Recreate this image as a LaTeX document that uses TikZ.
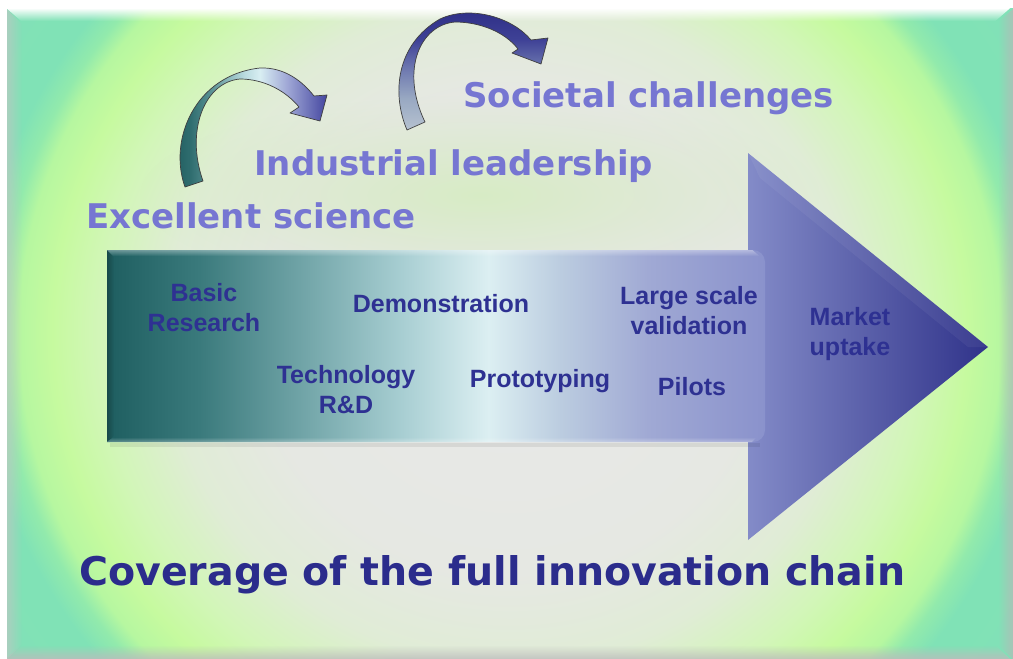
\documentclass[tikz,border=0pt]{standalone}
\usepackage{fontspec}
\newfontfamily\vfont{DejaVu Sans}
\newfontfamily\afont{Liberation Sans}
\usetikzlibrary{fadings}
% background colours
\definecolor{bgA}{HTML}{E8E8E8}
\definecolor{bgB}{HTML}{E6E8E3}
\definecolor{bgC}{HTML}{E0ECD6}
\definecolor{bgD}{HTML}{D2F6B8}
\definecolor{bgE}{HTML}{C6FA9F}
\definecolor{bgF}{HTML}{B6F7A0}
\definecolor{bgG}{HTML}{92EAAC}
\definecolor{bgH}{HTML}{80E2B6}
\definecolor{bgI}{HTML}{88DCBC}
\definecolor{blobgreen}{HTML}{CDEEB0}
\definecolor{bevL}{HTML}{C4C4C4}
\definecolor{bevR}{HTML}{B8B8B8}
\definecolor{bevB}{HTML}{BCBCBC}
% arrow body colours
\definecolor{bA}{HTML}{1E5E60}
\definecolor{bB}{HTML}{3A7A7C}
\definecolor{bC}{HTML}{6FA3A6}
\definecolor{bD}{HTML}{A6CDD1}
\definecolor{bE}{HTML}{DCEFF2}
\definecolor{bF}{HTML}{BCCDE0}
\definecolor{bG}{HTML}{A0A9D4}
\definecolor{bH}{HTML}{8A92CC}
\definecolor{headL}{HTML}{838BC8}
\definecolor{headR}{HTML}{30338A}
% curved arrow colours
\definecolor{cA}{HTML}{1C585A}
\definecolor{cB}{HTML}{2E6C6E}
\definecolor{cC}{HTML}{5A9294}
\definecolor{cD}{HTML}{B8DADE}
\definecolor{cE}{HTML}{D8EEF2}
\definecolor{cF}{HTML}{A0A8D6}
\definecolor{cG}{HTML}{4446A0}
\definecolor{dA}{HTML}{B6C2D0}
\definecolor{dB}{HTML}{98A8C2}
\definecolor{dC}{HTML}{6A74AE}
\definecolor{dD}{HTML}{3E4196}
\definecolor{dE}{HTML}{2C2C84}
% text colours
\definecolor{headc}{HTML}{7676D2}
\definecolor{titlec}{HTML}{2B2C8C}
\definecolor{labc}{HTML}{2E3192}

\pgfdeclareradialshading{bgshade}{\pgfpoint{0bp}{0bp}}{color(0bp)=(bgA); color(12bp)=(bgB); color(16.5bp)=(bgC); color(19.8bp)=(bgD); color(22bp)=(bgE); color(23.6bp)=(bgF); color(24.5bp)=(bgG); color(25.6bp)=(bgH); color(50bp)=(bgI)}
\pgfdeclarehorizontalshading{bodyshade}{100bp}{color(0bp)=(bA); color(25bp)=(bA); color(32bp)=(bB); color(39.6bp)=(bC); color(47.2bp)=(bD); color(54bp)=(bE); color(59.3bp)=(bF); color(66.1bp)=(bG); color(75bp)=(bH); color(100bp)=(bH)}
\pgfdeclarehorizontalshading{curveAshade}{100bp}{color(0bp)=(cA); color(25bp)=(cA); color(31.8bp)=(cB); color(38.6bp)=(cC); color(48.8bp)=(cD); color(53.9bp)=(cE); color(62.4bp)=(cF); color(75bp)=(cG); color(100bp)=(cG)}
\pgfdeclareverticalshading{curveBshade}{100bp}{color(0bp)=(dA); color(25bp)=(dA); color(37.8bp)=(dB); color(50.6bp)=(dC); color(61.3bp)=(dD); color(75bp)=(dE); color(100bp)=(dE)}

\tikzfading[name=fadeR, left color=transparent!0, right color=transparent!100]
\tikzfading[name=fadeL, left color=transparent!100, right color=transparent!0]
\tikzfading[name=fadeD, top color=transparent!0, bottom color=transparent!100]
\tikzfading[name=fadeU, top color=transparent!100, bottom color=transparent!0]
\tikzfading[name=blobfade, inner color=transparent!0, outer color=transparent!100]

\newcommand\twoline[2]{\begin{tabular}[t]{@{}c@{}}#1\\#2\end{tabular}}

\tikzset{
  heading/.style={font=\vfont\bfseries\fontsize{34}{40}\selectfont, text=headc, inner sep=0pt, anchor=base west},
  titletext/.style={font=\vfont\bfseries\fontsize{39.5}{46}\selectfont, text=titlec, inner sep=0pt, anchor=base west},
  lab/.style={font=\afont\bfseries\fontsize{25}{30}\selectfont, text=labc, inner sep=0pt, anchor=base},
  curvearrow/.style={draw=black!75, line width=0.7pt, line join=round}
}

\begin{document}
\begin{tikzpicture}[x=1pt,y=-1pt]
\useasboundingbox (0,0) rectangle (1013,659);
\fill[white] (0,0) rectangle (1013,659);

% slide background
\begin{scope}
  \clip (7,8) rectangle (1013,659);
  \shade[shading=bgshade] (-10,-167) rectangle (1030,833);
  \fill[blobgreen, path fading=blobfade, opacity=.6] (480,195) ellipse [x radius=340, y radius=100];
  \fill[bevL, opacity=.6, path fading=fadeR] (7,8) -- (22,23) -- (22,644) -- (7,659) -- cycle;
  \fill[white, path fading=fadeD] (7,8) -- (1013,8) -- (998,21) -- (22,21) -- cycle;
  \fill[bevR, opacity=.7, path fading=fadeL] (1013,8) -- (1013,659) -- (998,645) -- (998,21) -- cycle;
  \fill[bevB, opacity=.8, path fading=fadeU] (7,659) -- (22,645) -- (998,645) -- (1013,659) -- cycle;
\end{scope}

% headings
\node[heading] (excel) at (86,228) {Excellent science};
\node[heading] (indus) at (254,175) {Industrial leadership};
\node[heading] (soc) at (463,107) {Societal challenges};

% curved arrows
\path[curvearrow, shading=curveAshade, shade]
  (185,187) .. controls (168,140) and (195,75) .. (260,68)
  .. controls (285,67) and (303,82) .. (314,96)
  -- (327,95) -- (320,121) -- (290,113) -- (299,107)
  .. controls (285,90) and (263,79) .. (240,79)
  .. controls (205,82) and (185,130) .. (203,181) -- cycle;
\path[curvearrow, shading=curveBshade, shade]
  (407,130) .. controls (392,95) and (395,45) .. (440,19)
  .. controls (470,5) and (512,17) .. (531,40)
  -- (548,38) -- (541,64) -- (512,53) -- (518,49)
  .. controls (505,32) and (480,22) .. (455,22)
  .. controls (420,25) and (400,70) .. (425,122) -- cycle;

% main arrow head
\shade[left color=headL, right color=headR] (748,153) -- (988,347) -- (748,540) -- cycle;
\fill[white, opacity=.05] (748,153) -- (988,347) -- (968,347) -- (760,178) -- cycle;
% main arrow body
\fill[black, opacity=.07] (110,443) rectangle (760,447);
\shade[shading=bodyshade] (107,250) -- (753,250) arc[start angle=-90, end angle=0, radius=12]
  -- (765,430) arc[start angle=0, end angle=90, radius=12] -- (107,442) -- cycle;
\fill[white, opacity=.35, path fading=fadeD] (107,250) -- (753,250) -- (760,256) -- (113,256) -- cycle;
\fill[black, opacity=.22, path fading=fadeR] (107,250) -- (114,257) -- (114,436) -- (107,442) -- cycle;
\fill[white, opacity=.30, path fading=fadeU] (107,442) -- (114,437) -- (758,437) -- (753,442) -- cycle;

% stage labels
\node[lab] (basic) at (204,301) {\twoline{Basic}{Research}};
\node[lab] (demo) at (441,312) {Demonstration};
\node[lab] (tech) at (346,383) {\twoline{Technology}{R\&D}};
\node[lab] (proto) at (540,387) {Prototyping};
\node[lab] (large) at (689,304) {\twoline{Large scale}{validation}};
\node[lab] (pilots) at (692,395) {Pilots};
\node[lab] (market) at (850,325) {\twoline{Market}{uptake}};

% title
\node[titletext] (title) at (79,585) {Coverage of the full innovation chain};
\end{tikzpicture}
\end{document}
